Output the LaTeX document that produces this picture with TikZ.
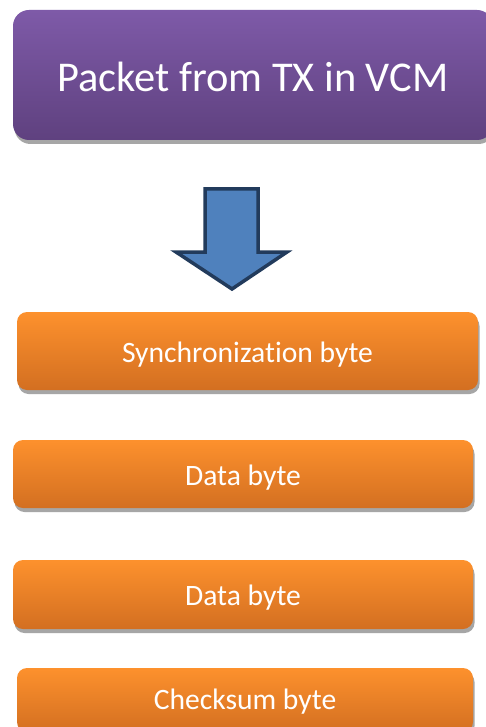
\documentclass[tikz,border=0pt]{standalone}
\usepackage{fontspec}
\setmainfont[Ligatures=NoCommon]{Carlito}
\usetikzlibrary{shadows}
\definecolor{purpletop}{HTML}{7E5AA8}
\definecolor{purplebot}{HTML}{5F417F}
\definecolor{orangetop}{HTML}{FD912D}
\definecolor{orangebot}{HTML}{D36F21}
\definecolor{arrowfill}{HTML}{4F81BD}
\definecolor{arrowline}{HTML}{223B5C}
\definecolor{shadowgray}{HTML}{A6A6A6}
% text set with its baseline a given distance below the node centre
\newcommand\basedrop[2]{\raisebox{-#1}[0pt][0pt]{#2}}
\tikzset{
  boxshadow/.style={drop shadow={shadow xshift=1.5pt, shadow yshift=-4pt, fill=shadowgray, opacity=1}},
  titlebox/.style={rectangle, rounded corners=16pt, top color=purpletop, bottom color=purplebot,
    text=white, font=\fontsize{42.4}{50}\selectfont, boxshadow, inner sep=0pt},
  fieldbox/.style={rectangle, rounded corners=10pt, top color=orangetop, bottom color=orangebot,
    text=white, font=\fontsize{29.6}{34}\selectfont, boxshadow, inner sep=0pt},
}
\begin{document}
\begin{tikzpicture}[x=1pt,y=-1pt]
\useasboundingbox (0,0) rectangle (485,727);
\fill[white] (0,0) rectangle (485,727);

% packet header
\node[titlebox, minimum width=480pt, minimum height=130pt] (title) at (253,75) {\basedrop{16.5pt}{Packet from TX in VCM}};

% block arrow pointing down to the fields
\draw[arrowline, fill=arrowfill, line width=3.5pt, line join=miter]
  (205,189) -- (258,189) -- (258,252) -- (287,252) -- (232,289) -- (176,252) -- (205,252) -- cycle;

% packet fields
\node[fieldbox, minimum width=461pt, minimum height=78pt] (sync) at (247.5,351) {\basedrop{11.8pt}{Synchronization byte}};
\node[fieldbox, minimum width=460pt, minimum height=68pt] (data1) at (243,474) {\basedrop{11.3pt}{Data byte}};
\node[fieldbox, minimum width=460pt, minimum height=69pt] (data2) at (243,594.5) {\basedrop{10.8pt}{Data byte}};
\node[fieldbox, minimum width=456pt, minimum height=64pt] (check) at (245,700) {\basedrop{9.5pt}{Checksum byte}};
\end{tikzpicture}
\end{document}
